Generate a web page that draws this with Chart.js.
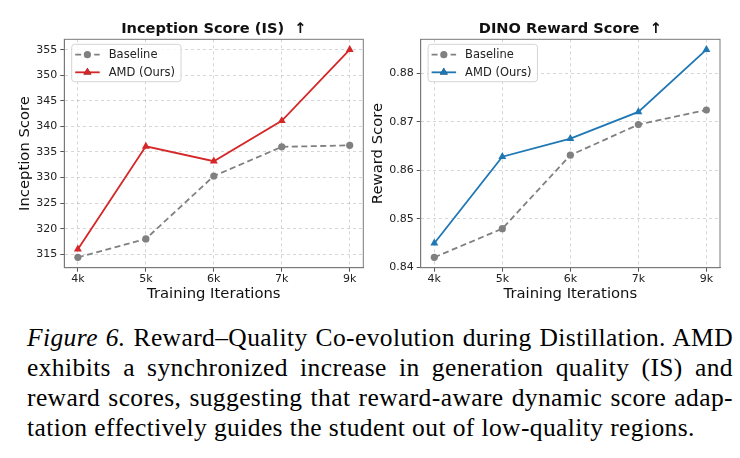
<!DOCTYPE html>
<html>
<head>
<meta charset="utf-8">
<script src="https://cdn.jsdelivr.net/npm/chart.js@4/dist/chart.umd.min.js"></script>
<style>
  html, body { margin: 0; padding: 0; background: #fff; }
  body { width: 740px; height: 458px; position: relative; overflow: hidden; }
  canvas { position: absolute; top: 0; }
  #isChart { left: 0; }
  #rewardChart { left: 360px; }
  .caption {
    position: absolute; left: 27px; top: 323px; width: 706px;
    font-family: "Liberation Serif", "Times New Roman", serif;
    font-size: 25.5px; line-height: 30px; letter-spacing: 0.4px; color: #000;
  }
  .caption div { text-align: justify; text-align-last: justify; white-space: nowrap; }
  .caption div.last { text-align-last: left; }
</style>
</head>
<body>
<canvas id="isChart" width="370" height="310"></canvas>
<canvas id="rewardChart" width="380" height="310"></canvas>
<div class="caption">
  <div><i>Figure 6.</i> Reward–Quality Co-evolution during Distillation. AMD</div>
  <div>exhibits a synchronized increase in generation quality (IS) and</div>
  <div>reward scores, suggesting that reward-aware dynamic score adap-</div>
  <div class="last">tation effectively guides the student out of low-quality regions.</div>
</div>
<script>
const categories = ['4k', '5k', '6k', '7k', '9k'];
const isBaseline = [314.4, 318.0, 330.3, 336.0, 336.3];
const isAmd = [316.0, 336.1, 333.2, 341.1, 355.0];
const rewardBaseline = [0.8421, 0.8480, 0.8631, 0.8694, 0.8724];
const rewardAmd = [0.8450, 0.8628, 0.8665, 0.8720, 0.8848];

const FONT = 'DejaVu Sans';
const SPINE = '#7a7a7a';
const GRID = 'rgba(0,0,0,0.16)';

// full box around the plot, like matplotlib spines
const framePlugin = {
    id: 'frame',
    afterDatasetsDraw(chart) {
        const a = chart.chartArea, ctx = chart.ctx;
        ctx.save();
        ctx.strokeStyle = SPINE;
        ctx.lineWidth = 1;
        ctx.strokeRect(a.left, a.top, a.right - a.left, a.bottom - a.top);
        ctx.restore();
    }
};

// legend box inside the plot, line sample with marker in the middle
const boxLegend = {
    id: 'boxLegend',
    afterDraw(chart) {
        const ctx = chart.ctx, a = chart.chartArea;
        const sets = chart.data.datasets;
        const fs = 11.5;
        ctx.save();
        ctx.font = fs + 'px "' + FONT + '"';
        let tw = 0;
        sets.forEach(d => { tw = Math.max(tw, ctx.measureText(d.label).width); });
        const x0 = a.left + 7.4, y0 = a.top + 5;
        const w = 37 + tw + 6, h = 37.4;
        ctx.fillStyle = 'rgba(255,255,255,0.85)';
        ctx.strokeStyle = '#d4d4d4';
        ctx.lineWidth = 1;
        ctx.beginPath();
        ctx.roundRect(x0, y0, w, h, 3);
        ctx.fill();
        ctx.stroke();
        sets.forEach((d, i) => {
            const cy = y0 + 10.4 + i * 17.6;
            ctx.strokeStyle = d.borderColor;
            ctx.lineWidth = d.borderWidth;
            ctx.setLineDash(d.borderDash || []);
            ctx.beginPath();
            ctx.moveTo(x0 + 3.5, cy);
            ctx.lineTo(x0 + 28, cy);
            ctx.stroke();
            ctx.setLineDash([]);
            Chart.helpers.drawPoint(ctx, {
                pointStyle: d.pointStyle, radius: d.pointRadius, rotation: 0, borderWidth: 0
            }, x0 + 15.7, cy);
            ctx.fillStyle = d.pointBackgroundColor;
            ctx.fill();
            ctx.fillStyle = '#222';
            ctx.textBaseline = 'middle';
            ctx.textAlign = 'left';
            ctx.fillText(d.label, x0 + 37, cy + 0.5);
        });
        ctx.restore();
    }
};

function makeChart(id, opts) {
    const all = opts.base.concat(opts.amd);
    const lo = Math.min(...all), hi = Math.max(...all);
    const pad = (hi - lo) * 0.05;
    const pts = arr => arr.map((v, i) => ({ x: i, y: v }));
    return new Chart(document.getElementById(id), {
        type: 'line',
        data: {
            datasets: [{
                label: 'Baseline',
                data: pts(opts.base),
                borderColor: '#808080',
                backgroundColor: '#808080',
                pointBackgroundColor: '#808080',
                borderWidth: 1.8,
                borderDash: [6, 3.5],
                pointStyle: 'circle',
                pointRadius: 3.6,
                pointBorderWidth: 0,
                tension: 0
            }, {
                label: 'AMD (Ours)',
                data: pts(opts.amd),
                borderColor: opts.color,
                backgroundColor: opts.color,
                pointBackgroundColor: opts.color,
                borderWidth: 1.8,
                pointStyle: 'triangle',
                pointRadius: 4.6,
                pointBorderWidth: 0,
                tension: 0
            }]
        },
        options: {
            responsive: false,
            animation: false,
            devicePixelRatio: 1,
            layout: { padding: { left: 0, right: opts.padRight, top: 0, bottom: 0 } },
            plugins: {
                legend: { display: false },
                tooltip: { enabled: false },
                title: {
                    display: true,
                    text: opts.title,
                    fullSize: false,
                    color: '#111',
                    font: { family: FONT, size: 14.6, weight: 'bold', lineHeight: 1.2 },
                    padding: { top: 20.7, bottom: 1.1 }
                }
            },
            scales: {
                x: {
                    type: 'linear',
                    min: -0.2,
                    max: categories.length - 1 + 0.2,
                    afterFit: s => { s.height = 42.3; },
                    afterBuildTicks: s => { s.ticks = categories.map((c, i) => ({ value: i })); },
                    ticks: {
                        callback: v => categories[v],
                        color: '#222',
                        font: { family: FONT, size: 11 },
                        padding: 1,
                        maxRotation: 0
                    },
                    grid: { color: GRID, tickColor: '#555', tickLength: 4, tickBorderDash: [] },
                    border: { color: SPINE, dash: [3, 3] },
                    title: {
                        display: true,
                        text: 'Training Iterations',
                        color: '#111',
                        font: { family: FONT, size: 14.8, lineHeight: 1 },
                        padding: { top: 0, bottom: 8 }
                    }
                },
                y: {
                    min: lo - pad,
                    max: hi + pad,
                    afterFit: s => { s.width = opts.axisWidth; },
                    ticks: {
                        stepSize: opts.step,
                        includeBounds: false,
                        callback: v => v.toFixed(opts.digits),
                        color: '#222',
                        font: { family: FONT, size: 11 },
                        padding: 3
                    },
                    grid: { color: GRID, tickColor: '#555', tickLength: 4, tickBorderDash: [] },
                    border: { color: SPINE, dash: [3, 3] },
                    title: {
                        display: true,
                        text: opts.yTitle,
                        color: '#111',
                        font: { family: FONT, size: 14.8, lineHeight: 1 },
                        padding: { top: opts.yTitlePad, bottom: 0 }
                    }
                }
            }
        },
        plugins: [framePlugin, boxLegend]
    });
}

makeChart('isChart', {
    base: isBaseline, amd: isAmd, color: '#d62728',
    title: 'Inception Score (IS)  ↑', yTitle: 'Inception Score',
    step: 5, digits: 0, axisWidth: 64.3, padRight: 6.7, yTitlePad: 17.6
});
makeChart('rewardChart', {
    base: rewardBaseline, amd: rewardAmd, color: '#1f77b4',
    title: 'DINO Reward Score  ↑', yTitle: 'Reward Score',
    step: 0.01, digits: 2, axisWidth: 60.7, padRight: 20, yTitlePad: 10.9
});
</script>
</body>
</html>
